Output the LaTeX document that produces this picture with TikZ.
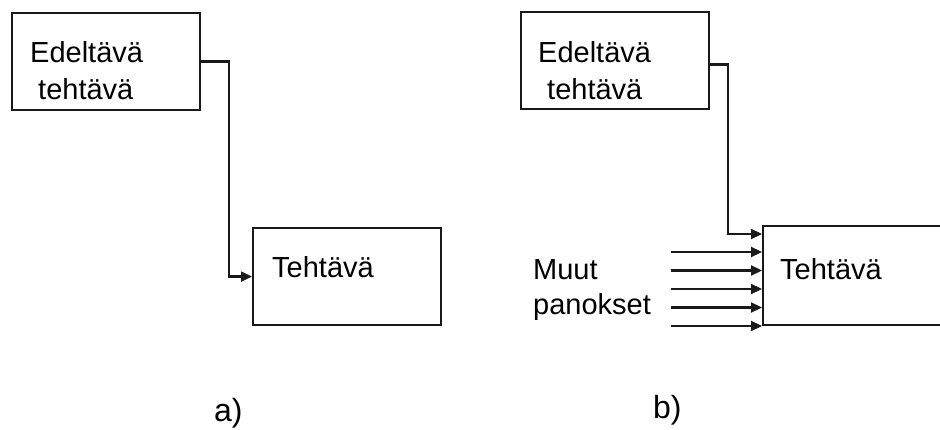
\documentclass[tikz,border=0pt]{standalone}
\usepackage{fontspec}
\setmainfont{Liberation Sans}
\usetikzlibrary{arrows.meta,calc}
\tikzset{
  box/.style={draw=black!90, line width=2.2pt, rectangle, inner sep=0pt, minimum width=188pt, minimum height=97pt, anchor=north west},
  txt/.style={anchor=base west, inner sep=0pt, font=\fontsize{29}{35}\selectfont, text=black},
  lbl/.style={anchor=base west, inner sep=0pt, font=\fontsize{32}{38}\selectfont, text=black},
  arr/.style={draw=black!90, line width=2.2pt, -{Triangle[length=11pt,width=10pt]}}
}
\begin{document}
\begin{tikzpicture}[x=1pt,y=-1pt]
\useasboundingbox (0,0) rectangle (940,430);
\clip (0,0) rectangle (940,430);
% a)
\node[box] (a1) at (11,12) {};
\node[txt] (a1t1) at (30,63) {Edeltävä};
\node[txt] (a1t2) at (38,100) {tehtävä};
\node[box] (a2) at (252,227) {};
\node[txt] (a2t) at (272,278) {Tehtävä};
\draw[arr] (a1.east) -- ++(28,0) |- (a2.west);
\node[lbl] (la) at (214,421) {a)};
% b)
\node[box] (b1) at (520,11) {};
\node[txt] (b1t1) at (538,63) {Edeltävä};
\node[txt] (b1t2) at (547,100) {tehtävä};
\node[box, minimum width=200pt, minimum height=99pt] (b2) at (762,225) {};
\node[txt] (b2t) at (780,280) {Tehtävä};
\coordinate (bk) at ($(b1.east)+(18,4)$);
\draw[arr] ($(b1.east)+(0,4)$) -- (bk) |- ($(b2.north west)+(0,9)$);
\foreach \dy in {27,45.5,64,82.5,101}
  \draw[arr] ($(b2.north west)+(-91,\dy)$) -- ($(b2.north west)+(0,\dy)$);
\node[txt] (m1) at (533,280) {Muut};
\node[txt] (m2) at (533,315) {panokset};
\node[lbl] (lb) at (653,418) {b)};
\end{tikzpicture}
\end{document}
